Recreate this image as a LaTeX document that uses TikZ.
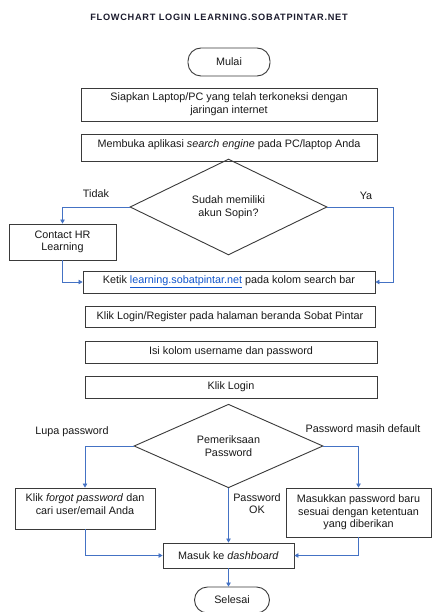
\documentclass[tikz,border=0pt]{standalone}
\usepackage{fontspec}
\setmainfont{Liberation Sans}
\newfontfamily\titlefont[LetterSpace=8]{Liberation Sans}
\usetikzlibrary{shapes.geometric,arrows.meta}
\definecolor{conn}{HTML}{4472C4}
\definecolor{linkc}{HTML}{1155CC}
\definecolor{boxline}{HTML}{3A3A3A}
\definecolor{titlec}{HTML}{1C1C2E}
\begin{document}
\begin{tikzpicture}[x=1pt,y=-1pt,
  every node/.style={font=\fontsize{10.8}{12.6}\selectfont, text=black!90},
  box/.style={draw=boxline, line width=0.9pt, rectangle, align=center, inner sep=1pt},
  term/.style={draw=boxline, line width=0.9pt, rectangle, rounded corners=13pt, align=center},
  dec/.style={draw=boxline, line width=0.9pt, diamond, align=center, inner sep=0pt},
  lbl/.style={align=center},
  conn/.style={draw=conn, line width=0.8pt, -{Triangle[length=4pt,width=4.5pt]}}
]
\useasboundingbox (0,0) rectangle (438,612);
\fill[white] (0,0) rectangle (438,612);

\node[font=\titlefont\fontsize{9.2}{11}\selectfont\bfseries, text=titlec] (title) at (219,17) {FLOWCHART LOGIN LEARNING.SOBATPINTAR.NET};

\node[term, minimum width=82pt, minimum height=28pt] (mulai) at (229,62) {Mulai};
\node[box, minimum width=296pt, minimum height=33pt] (b1) at (229,104.5) {Siapkan Laptop/PC yang telah terkoneksi dengan\\jaringan internet};
\node[box, minimum width=296pt, minimum height=27pt] (b2) at (229,147.5) {Membuka aplikasi \textit{search engine} pada PC/laptop Anda\\[-8pt]\strut};

\node[dec, minimum width=197pt, minimum height=69pt] (d1) at (228.5,207) {Sudah memiliki\\akun Sopin?};
\node[box, minimum width=107pt, minimum height=36pt] (hr) at (62.5,242) {Contact HR\\Learning};
\node[box, minimum width=292pt, minimum height=22pt] (ketik) at (229,282) {Ketik \textcolor{linkc}{\underline{learning.sobatpintar.net}} pada kolom search bar};
\coordinate (ya) at (393,207);

\node[box, minimum width=290pt, minimum height=21pt] (klr) at (230,316.5) {Klik Login/Register pada halaman beranda Sobat Pintar};
\node[box, minimum width=292pt, minimum height=22pt] (isi) at (231,352) {Isi kolom username dan password};
\node[box, minimum width=292pt, minimum height=22pt] (klik) at (231,387) {Klik Login};

\node[dec, minimum width=189pt, minimum height=63pt] (d2) at (228.5,446) {Pemeriksaan\\Password};
\node[box, minimum width=140pt, minimum height=41pt] (fp) at (85,508.5) {Klik \textit{forgot password} dan\\cari user/email Anda\\[-7pt]\strut};
\node[box, minimum width=145pt, minimum height=49pt] (mp) at (358.5,512.5) {Masukkan password baru\\sesuai dengan ketentuan\\yang diberikan};
\node[box, minimum width=131pt, minimum height=25pt] (masuk) at (228.5,555.5) {Masuk ke \textit{dashboard}};
\node[term, minimum width=75pt, minimum height=26pt] (selesai) at (232,600) {Selesai};

\node[lbl] (ltidak) at (96,194) {Tidak};
\node[lbl] (lya) at (366,196) {Ya};
\node[lbl] (llupa) at (72,432) {Lupa password};
\node[lbl] (ldef) at (363,428.5) {Password masih default};
\node[lbl] (lok) at (257,503.5) {Password\\OK};

\draw[conn] (d1.west) -| (hr.north);
\draw[conn] (hr.south) |- (ketik.west);
\draw[conn] (d1.east) -- (ya) |- (ketik.east);

\draw[conn] (d2.west) -| (fp.north);
\draw[conn] (d2.east) -| (mp.north);
\draw[conn] (d2.south) -- (masuk.north);
\draw[conn] (fp.south) |- (masuk.west);
\draw[conn] (mp.south) |- (masuk.east);
\draw[conn] (masuk.south) -- (masuk.south |- selesai.north);
\end{tikzpicture}
\end{document}
